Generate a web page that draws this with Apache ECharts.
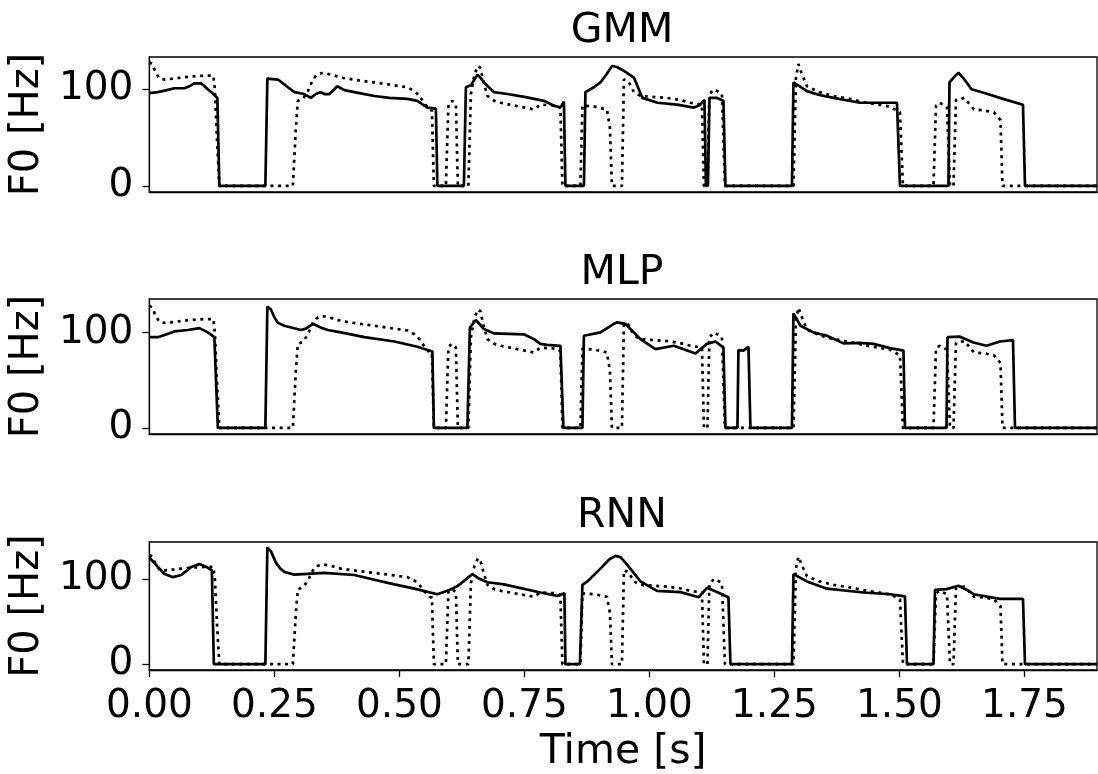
<!DOCTYPE html>
<html>
<head>
<meta charset="utf-8">
<script src="https://cdn.jsdelivr.net/npm/echarts@6/dist/echarts.min.js"></script>
<style>
  html, body { margin: 0; padding: 0; background: #fff; }
  #main { width: 1098px; height: 774px; }
</style>
</head>
<body>
<div id="main"></div>
<script>
// natural F0 (dotted), same in every panel
const targetF0 = [
  [0.000,128],[0.006,126],[0.012,118],[0.020,111],[0.030,110],[0.050,111],[0.080,113],[0.110,114],[0.128,114],[0.131,100],[0.136,40],[0.140,0],
  [0.287,0],[0.293,60],[0.297,88],[0.307,90],[0.317,98],[0.327,110],[0.335,115],[0.347,117],[0.365,115],[0.383,112],[0.420,109],[0.450,107],[0.490,104],[0.516,102],[0.530,98],[0.540,93],[0.549,86],[0.560,79],[0.565,78],[0.569,0],
  [0.593,0],[0.598,85],[0.606,88],[0.613,84],[0.617,0],
  [0.638,0],[0.643,95],[0.650,115],[0.657,124],[0.662,122],[0.668,108],[0.676,93],[0.690,88],[0.703,86],[0.740,82],[0.769,79],[0.782,84],[0.816,83],[0.822,80],[0.826,0],
  [0.862,0],[0.866,83],[0.890,82],[0.915,79],[0.921,60],[0.925,0],
  [0.945,0],[0.949,110],[0.958,108],[0.969,97],[0.982,93],[1.035,91],[1.060,89],[1.082,86],[1.105,84],[1.109,0],[1.116,0],[1.120,95],[1.130,100],[1.145,95],[1.151,0],
  [1.288,0],[1.293,112],[1.298,126],[1.304,117],[1.315,103],[1.340,97],[1.368,93],[1.400,90],[1.435,86],[1.481,82],[1.501,76],[1.507,0],
  [1.568,0],[1.573,83],[1.580,86],[1.595,82],[1.601,0],[1.608,0],[1.613,89],[1.630,91],[1.649,79],[1.670,78],[1.689,76],[1.702,68],[1.706,0],
  [1.895,0]
];

const gmmF0 = [
  [0.000,96],[0.017,97],[0.035,99],[0.050,101],[0.070,101],[0.080,103],[0.090,106],[0.104,106],[0.117,100],[0.128,95],[0.136,91],[0.140,0],
  [0.232,0],[0.236,111],[0.257,110],[0.270,105],[0.277,102],[0.290,97],[0.310,95],[0.323,91],[0.333,95],[0.343,97],[0.350,95],[0.360,95],[0.370,100],[0.376,103],[0.390,99],[0.420,96],[0.450,93],[0.480,91],[0.516,90],[0.536,88],[0.556,81],[0.573,80],[0.576,0],
  [0.629,0],[0.633,102],[0.643,104],[0.650,110],[0.656,115],[0.662,112],[0.669,107],[0.689,97],[0.716,95],[0.750,92],[0.789,88],[0.809,83],[0.822,81],[0.829,87],[0.832,0],
  [0.869,0],[0.872,97],[0.889,102],[0.902,107],[0.915,116],[0.925,124],[0.935,123],[0.949,119],[0.969,112],[0.986,91],[1.016,86],[1.055,84],[1.089,81],[1.102,84],[1.110,89],[1.113,0],[1.117,0],[1.120,91],[1.135,91],[1.148,88],[1.152,0],
  [1.285,0],[1.288,107],[1.315,98],[1.340,94],[1.368,91],[1.421,86],[1.495,86],[1.501,0],
  [1.598,0],[1.600,107],[1.610,113],[1.618,117],[1.630,110],[1.644,100],[1.670,96],[1.707,90],[1.747,84],[1.751,0],
  [1.895,0]
];

const mlpF0 = [
  [0.000,95],[0.017,95],[0.035,98],[0.050,101],[0.077,102.5],[0.100,104.5],[0.117,100],[0.130,95],[0.137,0],
  [0.232,0],[0.236,127],[0.243,124],[0.250,116],[0.257,110],[0.270,107],[0.303,102.5],[0.313,104],[0.327,109],[0.343,105],[0.357,102.5],[0.383,100],[0.430,95],[0.490,90.5],[0.536,85],[0.566,80],[0.569,0],
  [0.636,0],[0.641,105],[0.653,113],[0.669,103.5],[0.689,99],[0.749,98],[0.769,93],[0.782,88],[0.795,87],[0.822,86],[0.828,0],
  [0.866,0],[0.869,96.5],[0.902,100],[0.929,109],[0.935,110.5],[0.952,109],[0.982,93],[1.012,82.5],[1.049,86],[1.092,78],[1.115,88],[1.132,90.5],[1.148,84],[1.152,0],
  [1.176,0],[1.178,81.5],[1.188,81],[1.198,85],[1.202,0],
  [1.285,0],[1.288,120],[1.302,107],[1.328,100],[1.355,96.5],[1.388,88.5],[1.420,89],[1.448,88],[1.481,83.5],[1.508,81],[1.511,0],
  [1.594,0],[1.596,95],[1.621,95.5],[1.648,89.5],[1.674,86],[1.701,90.5],[1.727,92],[1.731,0],
  [1.895,0]
];

const rnnF0 = [
  [0.000,125],[0.017,114],[0.030,106],[0.047,102],[0.064,104.5],[0.084,114],[0.100,117.5],[0.114,114],[0.125,110],[0.129,0],
  [0.232,0],[0.236,137],[0.243,132.5],[0.253,119],[0.262,112],[0.270,108],[0.290,105],[0.350,107],[0.410,104.5],[0.450,99],[0.490,93.5],[0.530,88.5],[0.576,82],[0.600,87],[0.616,91.5],[0.630,98],[0.646,105.5],[0.660,100],[0.676,96],[0.709,93.5],[0.782,84],[0.816,80],[0.830,83],[0.832,0],
  [0.861,0],[0.866,93],[0.876,97],[0.902,112],[0.920,123],[0.932,127],[0.942,125.5],[0.952,119],[0.982,97],[1.015,86],[1.062,84.5],[1.099,78.5],[1.115,89.5],[1.135,84.5],[1.158,78.5],[1.162,0],
  [1.285,0],[1.288,105.5],[1.315,97],[1.355,88.5],[1.428,84],[1.481,82],[1.511,79.5],[1.515,0],
  [1.568,0],[1.571,87],[1.594,88],[1.618,92],[1.635,87],[1.648,82],[1.701,76.5],[1.747,76.5],[1.751,0],
  [1.895,0]
];

const xTicks = [0, 0.25, 0.5, 0.75, 1.0, 1.25, 1.5, 1.75];
const yTicks = [0, 100];

const panels = [
  { title: 'GMM', data: gmmF0, top: 57, yMin: -6.3, yMax: 133.3 },
  { title: 'MLP', data: mlpF0, top: 299, yMin: -6.4, yMax: 135 },
  { title: 'RNN', data: rnnF0, top: 542, yMin: -6.8, yMax: 143.2 },
];

const font = 'DejaVu Sans';
const black = '#000';

const chart = echarts.init(document.getElementById('main'));

let option = {
  animation: false,
  backgroundColor: '#fff',
  title: panels.map((p) => ({
    text: p.title,
    left: 622,
    top: p.top - 46,
    textAlign: 'center',
    padding: 0,
    textStyle: { fontFamily: font, fontSize: 41, fontWeight: 'normal', color: black },
  })),
  grid: panels.map((p) => ({
    left: 148,
    right: 1,
    top: p.top,
    height: 135,
    show: true,
    borderColor: black,
    borderWidth: 1.3,
    backgroundColor: 'transparent',
  })),
  xAxis: panels.map((p, i) => {
    const last = i === panels.length - 1;
    return {
      gridIndex: i,
      type: 'value',
      min: 0,
      max: 1.895,
      splitLine: { show: false },
      axisLine: { onZero: false, lineStyle: { color: black, width: 1.3 } },
      axisTick: { show: last, customValues: xTicks, length: 7, lineStyle: { color: black, width: 1.3 } },
      axisLabel: {
        show: last,
        customValues: xTicks,
        formatter: (v) => v.toFixed(2),
        margin: 17,
        fontFamily: font,
        fontSize: 39,
        color: black,
      },
      name: last ? 'Time [s]' : '',
      nameLocation: 'middle',
      nameGap: 62,
      nameTextStyle: { fontFamily: font, fontSize: 41, color: black },
    };
  }),
  yAxis: panels.map((p, i) => ({
    gridIndex: i,
    type: 'value',
    min: p.yMin,
    max: p.yMax,
    splitLine: { show: false },
    axisLine: { onZero: false, lineStyle: { color: black, width: 1.3 } },
    axisTick: { customValues: yTicks, length: 7, lineStyle: { color: black, width: 1.3 } },
    axisLabel: {
      customValues: yTicks,
      margin: 16,
      fontFamily: font,
      fontSize: 39,
      color: black,
    },
    name: 'F0 [Hz]',
    nameLocation: 'middle',
    nameRotate: 90,
    nameGap: 99,
    nameTextStyle: { fontFamily: font, fontSize: 40, color: black },
  })),
  series: [],
};

panels.forEach((p, i) => {
  // natural F0
  option.series.push({
    type: 'line',
    xAxisIndex: i,
    yAxisIndex: i,
    data: targetF0,
    showSymbol: false,
    symbol: 'none',
    lineStyle: { color: black, width: 2.7, type: [3, 4.6], cap: 'butt' },
  });
  // converted F0
  option.series.push({
    type: 'line',
    xAxisIndex: i,
    yAxisIndex: i,
    data: p.data,
    showSymbol: false,
    symbol: 'none',
    lineStyle: { color: black, width: 2.7 },
  });
});

chart.setOption(option);
</script>
</body>
</html>
